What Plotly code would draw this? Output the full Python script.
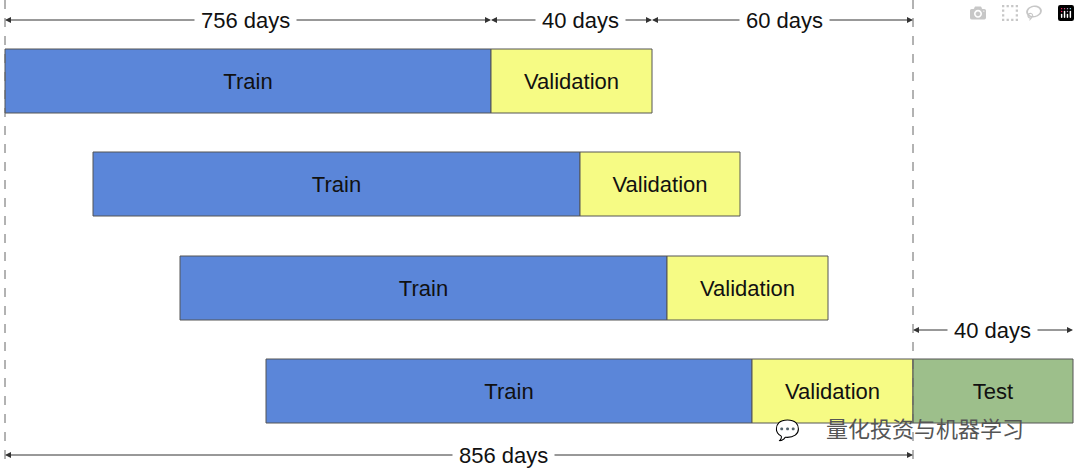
import plotly.graph_objects as go

rows_y = [81, 184, 288, 391]
train_start = [5, 93, 180, 266]
train_len = [486, 487, 487, 486]
val_len = [161, 160, 161, 161]
test_start = [913]
test_len = [160]
top_spans = [(5, 491, "756 days", 245), (491, 652, "40 days", 580), (652, 913, "60 days", 784)]
test_span = (913, 1073, "40 days", 992)
total_span = (5, 913, "856 days", 503)

fig = go.Figure()
val_start = [s + l for s, l in zip(train_start, train_len)]
font = dict(family="Liberation Sans, Arial", size=22, color="#111")
fig.add_trace(go.Bar(orientation="h", y=rows_y, base=train_start, x=train_len, width=64,
                     marker=dict(color="#5b86d9", line=dict(color="#555", width=1)),
                     text=["Train"] * 4, textposition="inside", insidetextanchor="middle",
                     textfont=font, hoverinfo="skip"))
fig.add_trace(go.Bar(orientation="h", y=rows_y, base=val_start, x=val_len, width=64,
                     marker=dict(color="#f6fb84", line=dict(color="#555", width=1)),
                     text=["Validation"] * 4, textposition="inside", insidetextanchor="middle",
                     textfont=font, hoverinfo="skip"))
fig.add_trace(go.Bar(orientation="h", y=[rows_y[3]], base=test_start, x=test_len, width=64,
                     marker=dict(color="#9dbf8b", line=dict(color="#555", width=1)),
                     text=["Test"], textposition="inside", insidetextanchor="middle",
                     textfont=font, hoverinfo="skip"))

for xv in [5, 913]:
    fig.add_shape(type="line", x0=xv, x1=xv, y0=0, y1=465,
                  line=dict(color="#666", width=1, dash="dash"))

def span(x0, x1, label, tx, y):
    for end in (x0, x1):
        fig.add_annotation(x=end, y=y, ax=tx, ay=y, xref="x", yref="y", axref="x", ayref="y",
                           text="", showarrow=True, arrowhead=2, arrowsize=1.2,
                           arrowwidth=1, arrowcolor="#333")
    fig.add_annotation(x=tx, y=y, text=label, showarrow=False, bgcolor="white",
                       font=dict(family="Liberation Sans, Arial", size=22, color="#111"),
                       borderpad=6)

for x0, x1, lab, tx in top_spans:
    span(x0, x1, lab, tx, 20)
span(*test_span, 330)
span(*total_span, 455)

fig.add_annotation(x=925, y=427, text="量化投资与机器学习", showarrow=False,
                   font=dict(family="Noto Sans CJK SC", size=22, color="#555"))
fig.add_annotation(x=787, y=429, text="💬", showarrow=False, font=dict(size=20, color="#777"))

fig.update_layout(width=1080, height=473, margin=dict(l=0, r=0, t=0, b=0),
                  plot_bgcolor="white", paper_bgcolor="white", showlegend=False, barmode="overlay",
                  xaxis=dict(range=[0, 1080], visible=False, fixedrange=True),
                  yaxis=dict(range=[473, 0], visible=False, fixedrange=True))
fig.write_html("out.html")
with open("out.html", encoding="utf-8") as f:
    html = f.read()
html = html.replace("<body>", '<body style="margin:0;overflow:hidden">', 1)
with open("out.html", "w", encoding="utf-8") as f:
    f.write(html)
